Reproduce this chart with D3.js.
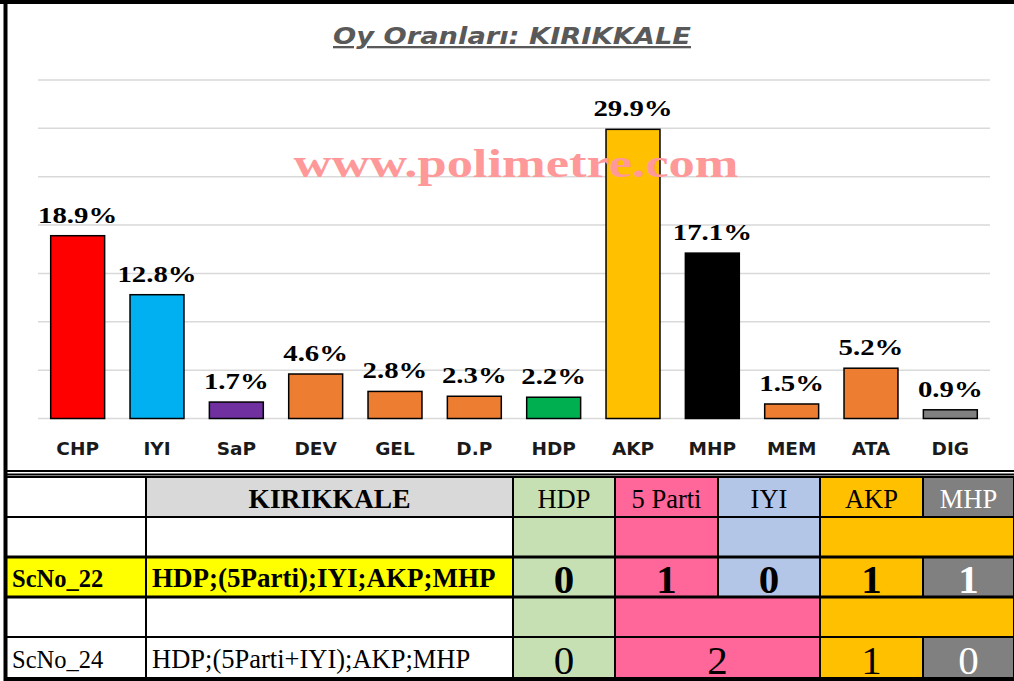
<!DOCTYPE html>
<html>
<head>
<meta charset="utf-8">
<script src="https://cdn.jsdelivr.net/npm/d3@7"></script>
<style>
  body { margin: 0; background: #fff; }
  svg { display: block; }
</style>
</head>
<body>
<svg id="chart"></svg>
<script>
// party vote shares (%)
const parties = ["CHP", "IYI", "SaP", "DEV", "GEL", "D.P", "HDP", "AKP", "MHP", "MEM", "ATA", "DIG"];
const shares = [18.9, 12.8, 1.7, 4.6, 2.8, 2.3, 2.2, 29.9, 17.1, 1.5, 5.2, 0.9];
const partyColors = ["#ff0000", "#00b0f0", "#7030a0", "#ed7d31", "#ed7d31", "#ed7d31",
                     "#00b050", "#ffc000", "#000000", "#ed7d31", "#ed7d31", "#808080"];
const yTicks = [0, 5, 10, 15, 20, 25, 30, 35];

// seat table
const tableTitle = "KIRIKKALE";
const blocs = ["HDP", "5 Parti", "IYI", "AKP", "MHP"];
const blocFills = ["#c6e0b4", "#ff6699", "#b4c6e7", "#ffc000", "#808080"];
const blocText = ["#000", "#000", "#000", "#000", "#fff"];
const scenarioIds = ["ScNo_22", "ScNo_24"];
const scenarioNames = ["HDP;(5Parti);IYI;AKP;MHP", "HDP;(5Parti+IYI);AKP;MHP"];
// merged groups per scenario: [first bloc, last bloc + 1]
const scenarioBands = [[[0, 1], [1, 2], [2, 3], [3, 5]], [[0, 1], [1, 3], [3, 5]]];
const scenarioCells = [[[0, 1], [1, 2], [2, 3], [3, 4], [4, 5]], [[0, 1], [1, 3], [3, 4], [4, 5]]];
const scenarioSeats = [[0, 1, 0, 1, 1], [0, 2, 1, 0]];

const W = 1014, H = 681;
const svg = d3.select("#chart").attr("width", W).attr("height", H);
svg.append("rect").attr("width", W).attr("height", H).attr("fill", "#fff");

// ---------- bar chart ----------
const plot = { left: 38, right: 990, top: 80, bottom: 418.5 };

const x = d3.scaleBand()
    .domain(parties)
    .range([plot.left, plot.right])
    .paddingInner(0.32)
    .paddingOuter(0.16);

const y = d3.scaleLinear()
    .domain([0, 35])
    .range([plot.bottom, plot.top]);

svg.append("g")
    .selectAll("line")
    .data(yTicks)
    .join("line")
    .attr("x1", plot.left).attr("x2", plot.right)
    .attr("y1", d => y(d)).attr("y2", d => y(d))
    .attr("stroke", "#d9d9d9")
    .attr("stroke-width", 1.5);

svg.append("text")
    .attr("x", 512).attr("y", 44)
    .attr("text-anchor", "middle")
    .attr("font-family", "'DejaVu Sans', Verdana, sans-serif")
    .attr("font-weight", "bold")
    .attr("font-style", "italic")
    .attr("font-size", 23)
    .attr("fill", "#595959")
    .attr("text-decoration", "underline")
    .attr("textLength", 358)
    .attr("lengthAdjust", "spacingAndGlyphs")
    .text("Oy Oranları: KIRIKKALE");

const data = parties.map((p, i) => ({ party: p, value: shares[i], color: partyColors[i] }));

svg.append("g")
    .selectAll("rect")
    .data(data)
    .join("rect")
    .attr("x", d => x(d.party))
    .attr("y", d => y(d.value))
    .attr("width", x.bandwidth())
    .attr("height", d => y(0) - y(d.value))
    .attr("fill", d => d.color)
    .attr("stroke", "#000")
    .attr("stroke-width", 1.5);

// watermark
svg.append("text")
    .attr("transform", "translate(516,177) scale(1.28,1)")
    .attr("text-anchor", "middle")
    .attr("font-family", "'Liberation Serif', 'Times New Roman', serif")
    .attr("font-weight", "bold")
    .attr("font-size", 41)
    .attr("fill", "#ff9999")
    .text("www.polimetre.com");

svg.append("g")
    .selectAll("text")
    .data(data)
    .join("text")
    .attr("transform", d => `translate(${x(d.party) + x.bandwidth() / 2},${y(d.value) - 13}) scale(1.2,1)`)
    .attr("text-anchor", "middle")
    .attr("font-family", "'Liberation Serif', 'Times New Roman', serif")
    .attr("font-weight", "bold")
    .attr("font-size", 24)
    .attr("fill", "#000")
    .text(d => d.value.toFixed(1) + "%");

svg.append("g")
    .selectAll("text")
    .data(parties)
    .join("text")
    .attr("x", d => x(d) + x.bandwidth() / 2)
    .attr("y", 455)
    .attr("text-anchor", "middle")
    .attr("font-family", "'DejaVu Sans', Verdana, sans-serif")
    .attr("font-weight", "bold")
    .attr("font-size", 18.5)
    .attr("fill", "#1a1a1a")
    .text(d => d);

// ---------- table ----------
const colWidths = [141, 367, 102, 103, 102, 103, 91];
const colEdges = [5, ...d3.cumsum(colWidths).map(v => v + 5)];
const rowEdges = [477, 517, 557, 597, 637, 678];
const blocX0 = i => colEdges[2 + i];

const table = svg.append("g");
const serif = "'Liberation Serif', 'Times New Roman', serif";

function cell(x0, x1, y0, y1, fill) {
    table.append("rect")
        .attr("x", x0).attr("y", y0)
        .attr("width", x1 - x0).attr("height", y1 - y0)
        .attr("fill", fill)
        .attr("stroke", "#000")
        .attr("stroke-width", 2);
}
function label(tx, ty, txt, opts) {
    table.append("text")
        .attr("x", tx).attr("y", ty)
        .attr("text-anchor", opts.anchor || "middle")
        .attr("font-family", serif)
        .attr("font-weight", opts.bold ? "bold" : "normal")
        .attr("font-size", opts.size)
        .attr("fill", opts.color || "#000")
        .text(txt);
}

// header row
cell(colEdges[0], colEdges[1], rowEdges[0], rowEdges[1], "#fff");
cell(colEdges[1], colEdges[2], rowEdges[0], rowEdges[1], "#d9d9d9");
label((colEdges[1] + colEdges[2]) / 2, rowEdges[1] - 9, tableTitle, { bold: true, size: 27.5 });
blocs.forEach((b, i) => {
    cell(blocX0(i), colEdges[3 + i], rowEdges[0], rowEdges[1], blocFills[i]);
    label((blocX0(i) + colEdges[3 + i]) / 2, rowEdges[1] - 9, b, { size: 26.5, color: blocText[i] });
});

// scenario rows
scenarioIds.forEach((id, s) => {
    const bandTop = rowEdges[1 + s * 2], valTop = rowEdges[2 + s * 2], valBot = rowEdges[3 + s * 2];
    const hi = s === 0;
    cell(colEdges[0], colEdges[1], bandTop, valTop, "#fff");
    cell(colEdges[1], colEdges[2], bandTop, valTop, "#fff");
    scenarioBands[s].forEach(([a, b]) => cell(blocX0(a), colEdges[2 + b], bandTop, valTop, blocFills[a]));

    cell(colEdges[0], colEdges[1], valTop, valBot, hi ? "#ffff00" : "#fff");
    cell(colEdges[1], colEdges[2], valTop, valBot, hi ? "#ffff00" : "#fff");
    label(colEdges[0] + 7, valBot - 10, id, { anchor: "start", bold: hi, size: 24.5 });
    label(colEdges[1] + 6, valBot - 10, scenarioNames[s], { anchor: "start", bold: hi, size: hi ? 27 : 26.5 });
    scenarioCells[s].forEach(([a, b], k) => {
        cell(blocX0(a), colEdges[2 + b], valTop, valBot, blocFills[a]);
        label((blocX0(a) + colEdges[2 + b]) / 2, valBot - 4.5, scenarioSeats[s][k],
              { bold: hi, size: 41, color: blocText[a] });
    });
});

// heavier rules around highlighted scenario
[rowEdges[2], rowEdges[3]].forEach(yy => {
    table.append("line").attr("x1", colEdges[0]).attr("x2", W)
        .attr("y1", yy).attr("y2", yy).attr("stroke", "#000").attr("stroke-width", 3);
});

// ---------- frame ----------
const frame = svg.append("g").attr("stroke", "#000");
frame.append("line").attr("x1", 0).attr("x2", W).attr("y1", 2).attr("y2", 2).attr("stroke-width", 4);
frame.append("line").attr("x1", 5.5).attr("x2", 5.5).attr("y1", 0).attr("y2", H).attr("stroke-width", 4);
frame.append("line").attr("x1", 5).attr("x2", W).attr("y1", 471).attr("y2", 471).attr("stroke-width", 2);
frame.append("line").attr("x1", 5).attr("x2", W).attr("y1", 474.5).attr("y2", 474.5).attr("stroke-width", 2);
frame.append("line").attr("x1", 5).attr("x2", W).attr("y1", 679).attr("y2", 679).attr("stroke-width", 4);
</script>
</body>
</html>
